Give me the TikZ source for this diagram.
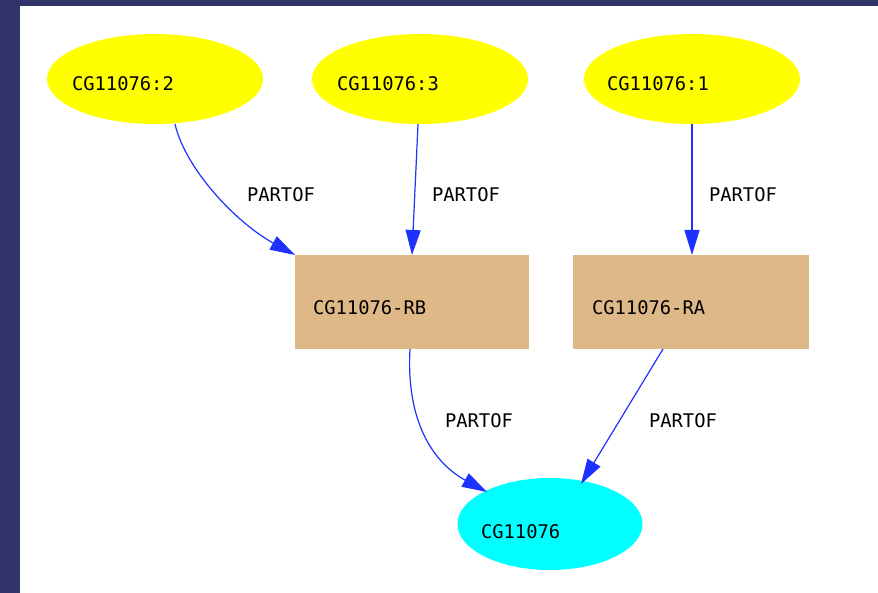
\documentclass[tikz,border=0pt]{standalone}
\usepackage{fontspec}
\setmonofont{DejaVu Sans Mono}
\usetikzlibrary{shapes.geometric,arrows.meta}
\definecolor{frame}{RGB}{49,51,106}
\definecolor{edgeblue}{RGB}{30,50,255}
\definecolor{exonyellow}{RGB}{255,255,0}
\definecolor{genecyan}{RGB}{0,255,255}
\definecolor{tan}{RGB}{222,184,135}
\tikzset{
  x=1pt, y=-1pt,
  every node/.style={inner sep=0pt, outer sep=0pt},
  txt/.style={font=\ttfamily\fontsize{18.8}{20}\selectfont, text=black, anchor=base west},
  exon/.style={ellipse, fill=exonyellow, minimum width=216pt, minimum height=90pt},
  gene/.style={ellipse, fill=genecyan, minimum width=185pt, minimum height=92pt},
  transcript/.style={rectangle, fill=tan, minimum width=234pt, minimum height=94pt},
  rel/.style={draw=edgeblue, line width=1.2pt, -{Triangle[length=25pt,width=15pt]}},
}
\begin{document}
\begin{tikzpicture}
\useasboundingbox (0,0) rectangle (878,593);
\fill[white] (0,0) rectangle (878,593);
% window frame
\fill[frame] (0,0) rectangle (878,6);
\fill[frame] (0,0) rectangle (20,593);

% nodes
\node[exon] (e2) at (155,79) {};
\node[exon] (e3) at (420,79) {};
\node[exon] (e1) at (692,79) {};
\node[transcript] (rb) at (412,302) {};
\node[transcript, minimum width=236pt] (ra) at (691,302) {};
\node[gene] (g) at (550,524) {};

\node[txt] (te2) at (72,91) {CG11076:2};
\node[txt] (te3) at (337,91) {CG11076:3};
\node[txt] (te1) at (607,91) {CG11076:1};
\node[txt] (trb) at (313,315) {CG11076-RB};
\node[txt] (tra) at (592,315) {CG11076-RA};
\node[txt] (tg) at (481,538) {CG11076};

% edges
\coordinate (s2) at (175,124);
\coordinate (s3) at (418,124);
\coordinate (s1) at (692,124);
\coordinate (srb) at (410,349);
\coordinate (sra) at (663,349);
\draw[rel] (s2) .. controls (185,168) and (235,222) .. (rb.north west);
\draw[rel] (s3) -- (rb.north -| 412,0);
\draw[rel] (s1) -- (ra.north -| s1);
\draw[rel] (srb) .. controls (406,420) and (432,462) .. (487,492);
\draw[rel] (sra) -- (581,484);

% edge labels
\node[txt] (l1) at (247,202) {PARTOF};
\node[txt] (l2) at (432,202) {PARTOF};
\node[txt] (l3) at (709,202) {PARTOF};
\node[txt] (l4) at (445,427) {PARTOF};
\node[txt] (l5) at (649,427) {PARTOF};
\end{tikzpicture}
\end{document}
